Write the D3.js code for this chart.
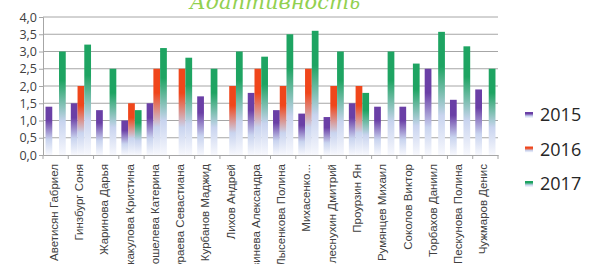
<!DOCTYPE html>
<html>
<head>
<meta charset="utf-8">
<script src="https://d3js.org/d3.v7.min.js"></script>
<style>
  body { margin: 0; background: #fff; }
  svg { display: block; }
</style>
</head>
<body>
<div id="chart"></div>
<script>
const names = ['Аветисян Габриел', 'Гинзбург Соня', 'Жаринова Дарья', 'Искакулова Кристина',
  'Кошелева Катерина', 'Кураева Севастиана', 'Курбанов Маджид', 'Лихов Андрей',
  'Литвинева Александра', 'Лысенкова Полина', 'Михасенко...', 'Плеснухин Дмитрий',
  'Проурзин Ян', 'Румянцев Михаил', 'Соколов Виктор', 'Торбахов Даниил',
  'Пескунова Полина', 'Чужмаров Денис'];
const years = ['2015', '2016', '2017'];
const v2015 = [1.4, 1.5, 1.3, 1.0, 1.5, 0, 1.7, 0, 1.8, 1.3, 1.2, 1.1, 1.5, 1.4, 1.4, 2.5, 1.6, 1.9];
const v2016 = [0, 2.0, 0, 1.5, 2.5, 2.5, 0, 2.0, 2.5, 2.0, 2.5, 2.0, 2.0, 0, 0, 0, 0, 0];
const v2017 = [3.0, 3.2, 2.5, 1.3, 3.1, 2.82, 2.5, 3.0, 2.85, 3.5, 3.6, 3.0, 1.8, 3.0, 2.65, 3.57, 3.15, 2.5];
const yTicks = [0, 0.5, 1, 1.5, 2, 2.5, 3, 3.5, 4];
const colors = ['#6a3fa6', '#f0461b', '#1ea462'];

const series = [v2015, v2016, v2017];
const width = 591, height = 264;
const m = { left: 43, right: 498, top: 17, bottom: 155 };

const svg = d3.select('#chart').append('svg')
  .attr('width', width).attr('height', height);

const defs = svg.append('defs');
colors.forEach((c, i) => {
  const grad = defs.append('linearGradient')
    .attr('id', 'g' + i).attr('x1', 0).attr('y1', 0).attr('x2', 0).attr('y2', 1);
  grad.append('stop').attr('offset', 0).attr('stop-color', c);
  grad.append('stop').attr('offset', 0.28).attr('stop-color', c);
  grad.append('stop').attr('offset', 0.68).attr('stop-color', '#c9d4ef');
  grad.append('stop').attr('offset', 1).attr('stop-color', '#f7f8fd');
});

const x0 = d3.scaleBand().domain(names).range([m.left, m.right]).paddingInner(0).paddingOuter(0);
const x1 = d3.scaleBand().domain(years).range([0, x0.bandwidth()]).paddingOuter(0.375).paddingInner(0);
const y = d3.scaleLinear().domain([0, 4]).range([m.bottom, m.top]);

// grid
svg.append('g')
  .selectAll('line')
  .data(yTicks.slice(1))
  .enter().append('line')
  .attr('x1', m.left).attr('x2', m.right)
  .attr('y1', d => y(d)).attr('y2', d => y(d))
  .attr('stroke', '#a6a6a6').attr('stroke-width', 1);

// bars
const groups = svg.append('g')
  .selectAll('g')
  .data(names)
  .enter().append('g')
  .attr('transform', d => `translate(${x0(d)},0)`);

groups.selectAll('rect')
  .data((d, i) => series.map((s, k) => ({ year: years[k], k: k, value: s[i] })).filter(e => e.value > 0))
  .enter().append('rect')
  .attr('x', d => x1(d.year))
  .attr('width', x1.bandwidth())
  .attr('y', d => y(d.value))
  .attr('height', d => y(0) - y(d.value))
  .attr('fill', d => `url(#g${d.k})`);

// y axis
const yAxis = svg.append('g')
  .attr('transform', `translate(${m.left},0)`)
  .call(d3.axisLeft(y).tickValues(yTicks).tickSize(4)
    .tickFormat(d => d3.format('.1f')(d).replace('.', ',')));
yAxis.select('.domain').attr('stroke', '#a6a6a6');
yAxis.selectAll('.tick line').attr('stroke', '#a6a6a6');
yAxis.selectAll('.tick text')
  .attr('font-family', 'Open Sans, Liberation Sans, sans-serif')
  .attr('font-size', 12.5).attr('fill', '#404040').attr('x', -6);

// x axis
const xAxis = svg.append('g')
  .attr('transform', `translate(0,${m.bottom})`)
  .call(d3.axisBottom(x0).tickSize(0).tickSizeOuter(0));
xAxis.select('.domain').attr('stroke', '#a6a6a6');
xAxis.selectAll('.tick text')
  .attr('font-family', 'Liberation Sans, Arial, sans-serif')
  .attr('font-size', 11.5).attr('fill', '#404040')
  .attr('transform', 'rotate(-90)')
  .attr('text-anchor', 'end')
  .attr('x', -9).attr('y', -2).attr('dy', '0.35em');

// category separators
svg.append('g')
  .selectAll('line')
  .data(d3.range(names.length + 1))
  .enter().append('line')
  .attr('x1', i => m.left + i * x0.step()).attr('x2', i => m.left + i * x0.step())
  .attr('y1', m.bottom).attr('y2', m.bottom + 4)
  .attr('stroke', '#a6a6a6');

// title
svg.append('text')
  .attr('x', 275).attr('y', 9)
  .attr('text-anchor', 'middle')
  .attr('font-family', 'DejaVu Serif, serif')
  .attr('font-style', 'italic')
  .attr('font-size', 21)
  .attr('fill', '#92d050')
  .text('Адаптивность');

// legend
const legend = svg.append('g')
  .selectAll('g')
  .data(years)
  .enter().append('g')
  .attr('transform', (d, i) => `translate(525,${115 + i * 34.5})`);
legend.append('rect')
  .attr('x', 0).attr('y', -3).attr('width', 8).attr('height', 6)
  .attr('fill', (d, i) => `url(#g${i})`);
legend.append('text')
  .attr('x', 15).attr('y', 0).attr('dy', '0.36em')
  .attr('font-family', 'Open Sans, Liberation Sans, sans-serif')
  .attr('font-size', 18).attr('fill', '#262626')
  .text(d => d);
</script>
</body>
</html>
